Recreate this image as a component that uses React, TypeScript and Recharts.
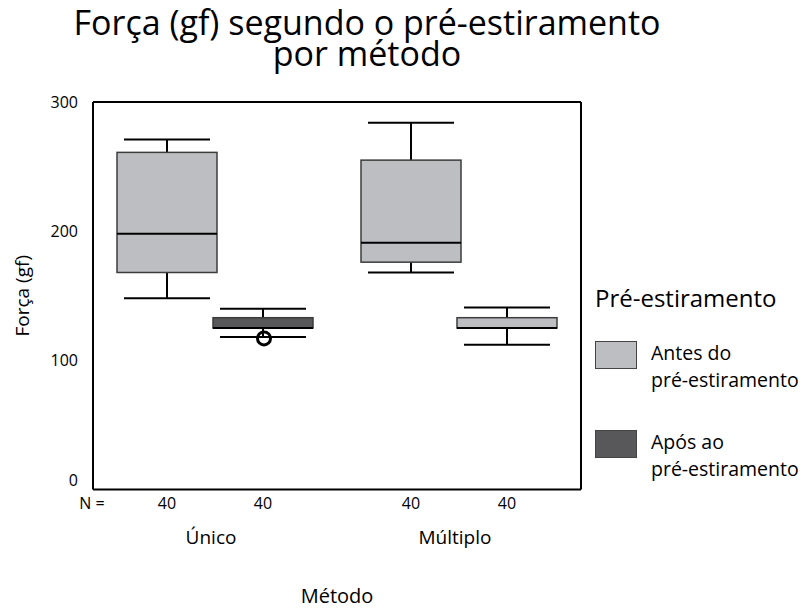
import React from "react";
import { ComposedChart, Bar, XAxis, YAxis, Cell, CartesianGrid } from "recharts";

const methods = ["Único", "Múltiplo"];
const seriesNames = ["Antes do pré-estiramento", "Após ao pré-estiramento"];

// Antes do pré-estiramento
const antesMin = [148, 168];
const antesQ1 = [168, 176];
const antesMedian = [198, 191];
const antesQ3 = [261, 255];
const antesMax = [271, 284];
const antesOutliers: number[][] = [[], []];

// Após ao pré-estiramento
const aposMin = [118, 112];
const aposQ1 = [125, 125];
const aposMedian = [125, 125];
const aposQ3 = [133, 133];
const aposMax = [140, 141];
const aposOutliers: number[][] = [[117], []];

const nCounts = [
  [40, 40],
  [40, 40],
];

const yTicks = [0, 100, 200, 300];

const LIGHT = "#bdbec2";
const DARK = "#58585a";
const FONT = "'Open Sans', sans-serif";

// the second box in "Múltiplo" is drawn light in the original figure
const antesFills = [LIGHT, LIGHT];
const aposFills = [DARK, LIGHT];
const legendFills = [LIGHT, DARK];

const data = methods.map((m, i) => ({
  method: m,
  antes: [antesQ1[i], antesQ3[i]],
  apos: [aposQ1[i], aposQ3[i]],
  antesStats: { min: antesMin[i], q1: antesQ1[i], med: antesMedian[i], q3: antesQ3[i], max: antesMax[i], out: antesOutliers[i] },
  aposStats: { min: aposMin[i], q1: aposQ1[i], med: aposMedian[i], q3: aposQ3[i], max: aposMax[i], out: aposOutliers[i] },
  n: nCounts[i],
}));

function BoxShape(props: any) {
  const { x, y, width, height, payload, statKey, fill } = props;
  const s = payload[statKey];
  const top = Math.min(y, y + height);
  const h = Math.abs(height);
  const ppu = h / (s.q3 - s.q1);
  const toY = (v: number) => top + (s.q3 - v) * ppu;
  const cx = x + width / 2;
  const capHalf = width * 0.43;
  return (
    <g>
      <line x1={cx} x2={cx} y1={toY(s.max)} y2={toY(s.q3)} stroke="#000" strokeWidth={2} />
      <line x1={cx} x2={cx} y1={toY(s.q1)} y2={toY(s.min)} stroke="#000" strokeWidth={2} />
      <line x1={cx - capHalf} x2={cx + capHalf} y1={toY(s.max)} y2={toY(s.max)} stroke="#000" strokeWidth={2} />
      <line x1={cx - capHalf} x2={cx + capHalf} y1={toY(s.min)} y2={toY(s.min)} stroke="#000" strokeWidth={2} />
      <rect x={x} y={top} width={width} height={h} fill={fill} stroke="#3c3c3c" strokeWidth={1.5} />
      <line x1={x} x2={x + width} y1={toY(s.med)} y2={toY(s.med)} stroke="#000" strokeWidth={2} />
      {s.out.map((o: number, k: number) => (
        <circle key={k} cx={cx + 1} cy={toY(o)} r={6.5} fill="none" stroke="#000" strokeWidth={3} />
      ))}
    </g>
  );
}

function MethodTick(props: any) {
  const { x, y, payload, index } = props;
  const row = data[index];
  return (
    <g fontFamily={FONT} fill="#000">
      {index === 0 && (
        <text x={x - 123} y={y + 13} fontSize={16} textAnchor="middle" dominantBaseline="central">
          N =
        </text>
      )}
      <text x={x - 48} y={y + 13} fontSize={16} textAnchor="middle" dominantBaseline="central">
        {row.n[0]}
      </text>
      <text x={x + 48} y={y + 13} fontSize={16} textAnchor="middle" dominantBaseline="central">
        {row.n[1]}
      </text>
      <text x={x - 4} y={y + 47} fontSize={19} textAnchor="middle" dominantBaseline="central">
        {payload.value}
      </text>
    </g>
  );
}

// the lowest label sits a little above the axis so it clears the "N =" row
function ValueTick(props: any) {
  const { x, y, payload } = props;
  const lift = payload.value === yTicks[0] ? -10 : 0;
  return (
    <text x={x} y={y + lift} textAnchor="end" dominantBaseline="central" fontSize={16} fontFamily={FONT} fill="#000">
      {payload.value}
    </text>
  );
}

function splitName(name: string) {
  const w = name.split(" ");
  return [w.slice(0, 2).join(" "), w.slice(2).join(" ")];
}

export default function App() {
  const frame = { stroke: "#000", strokeWidth: 2 };
  return (
    <div style={{ position: "absolute", left: 0, top: 0, width: 802, height: 608, background: "#fff", fontFamily: FONT }}>
      <svg width={802} height={80} style={{ position: "absolute", left: 0, top: 0 }}>
        <text x={367} y={35} textAnchor="middle" fontSize={34} fontFamily={FONT} fill="#000">
          Força (gf) segundo o pré-estiramento
        </text>
        <text x={367} y={66} textAnchor="middle" fontSize={34} fontFamily={FONT} fill="#000">
          por método
        </text>
      </svg>
      <ComposedChart
        width={802}
        height={608}
        data={data}
        margin={{ top: 102, right: 221, bottom: 0, left: 33 }}
        barSize={100}
        barGap={-4}
        style={{ position: "absolute", left: 0, top: 0 }}
      >
        <CartesianGrid
          stroke="#000"
          strokeWidth={2}
          horizontalCoordinatesGenerator={({ offset }: any) => [offset.top]}
          verticalCoordinatesGenerator={({ offset }: any) => [offset.left + offset.width]}
        />
        <XAxis
          dataKey="method"
          height={118.5}
          axisLine={frame}
          tickLine={false}
          tickSize={0}
          tickMargin={0}
          tick={<MethodTick />}
          interval={0}
          label={{
            content: (p: any) => {
              const vb = p.viewBox;
              return (
                <text x={vb.x + vb.width / 2} y={vb.y + 106} textAnchor="middle" dominantBaseline="central" fontSize={20} fontFamily={FONT} fill="#000">
                  Método
                </text>
              );
            },
          }}
        />
        <YAxis
          domain={[0, 300]}
          ticks={yTicks}
          width={60}
          axisLine={frame}
          tickLine={false}
          tickMargin={9}
          tick={<ValueTick />}
          label={{
            content: (p: any) => {
              const vb = p.viewBox;
              const cy = vb.y + vb.height / 2;
              return (
                <text transform={`translate(22,${cy}) rotate(-90)`} textAnchor="middle" dominantBaseline="central" fontSize={19} fontFamily={FONT} fill="#000">
                  Força (gf)
                </text>
              );
            },
          }}
        />
        <Bar
          dataKey="antes"
          name={seriesNames[0]}
          isAnimationActive={false}
          shape={(p: any) => <BoxShape {...p} statKey="antesStats" fill={antesFills[p.index]} />}
        >
          {data.map((_, i) => (
            <Cell key={i} fill={antesFills[i]} />
          ))}
        </Bar>
        <Bar
          dataKey="apos"
          name={seriesNames[1]}
          isAnimationActive={false}
          shape={(p: any) => <BoxShape {...p} statKey="aposStats" fill={aposFills[p.index]} />}
        >
          {data.map((_, i) => (
            <Cell key={i} fill={aposFills[i]} />
          ))}
        </Bar>
      </ComposedChart>
      <div style={{ position: "absolute", left: 595, top: 282, fontSize: 24, lineHeight: "32px", color: "#000" }}>
        Pré-estiramento
      </div>
      {seriesNames.map((name, i) => {
        const [l1, l2] = splitName(name);
        const top = i === 0 ? 339 : 428;
        return (
          <div key={name} style={{ position: "absolute", left: 595, top, display: "flex", alignItems: "flex-start" }}>
            <div
              style={{
                width: 42,
                height: 28,
                marginTop: 2,
                background: legendFills[i],
                border: "1.5px solid #444",
                boxSizing: "border-box",
              }}
            />
            <div style={{ marginLeft: 14, fontSize: 19.5, lineHeight: "27px", color: "#000", whiteSpace: "nowrap" }}>
              <div>{l1}</div>
              <div>{l2}</div>
            </div>
          </div>
        );
      })}
    </div>
  );
}
